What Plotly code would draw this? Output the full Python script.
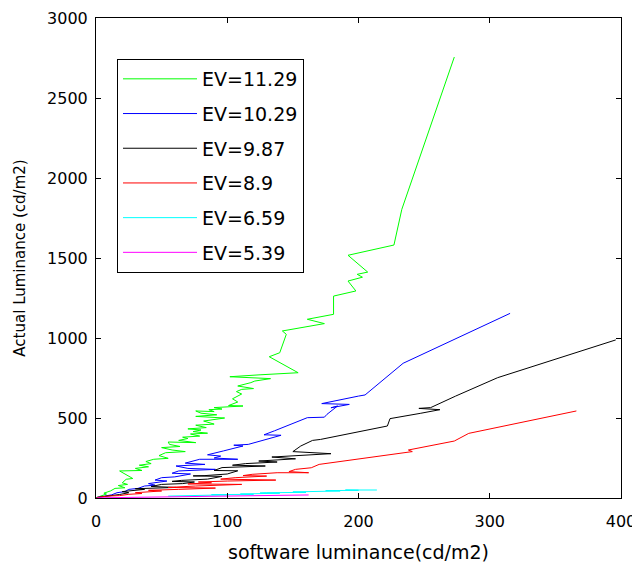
import plotly.graph_objects as go

# ---- data ----
series_names = ["EV=11.29", "EV=10.29", "EV=9.87", "EV=8.9", "EV=6.59", "EV=5.39"]
series_colors = ["#00FF00", "#0000FF", "#000000", "#FF0000", "#00FFFF", "#FF00FF"]

ev1129_x = [0.5, 4, 8, 6, 11, 14.5, 22, 17, 24, 20, 23, 28, 18, 35, 30, 40, 33, 42, 38, 44,
            55, 48, 53, 68, 58, 50, 64, 56, 55, 76, 63, 70, 66, 79, 72, 85, 74, 80, 70, 84,
            76, 90, 82, 98, 76, 92, 80, 76, 90, 86, 96, 90, 112, 101, 108, 104, 111, 107, 111, 120,
            108, 118, 121, 133, 102, 125, 154, 132, 140, 145, 142, 174, 161, 181, 181, 198, 192,
            203, 199, 207, 192, 227, 233, 273]
ev1129_y = [3, 12, 25, 30, 44, 60, 64, 78, 85, 95, 117, 122, 169, 172, 185, 195, 205, 215, 228, 242,
            248, 265, 283, 290, 300, 315, 322, 335, 350, 346, 360, 372, 380, 387, 400, 405, 415, 425, 432, 440,
            455, 462, 481, 500, 510, 520, 530, 544, 540, 552, 556, 565, 575, 578, 600, 620, 650, 665, 679, 684,
            700, 721, 731, 746, 758, 770, 783, 883, 908, 1023, 1044, 1090, 1117, 1148, 1262, 1294, 1356,
            1380, 1398, 1412, 1517, 1581, 1804, 2756]

ev1029_x = [0.5, 7, 12, 16, 22, 25, 32, 37, 45, 40, 54, 45, 50, 60, 72, 58, 63, 91, 70, 61,
            83, 68, 79, 108, 90, 95, 85, 97, 112, 105, 116, 141, 128, 136, 149, 161, 174, 176, 184, 179,
            193, 172, 200, 205, 234, 315.5]
ev1029_y = [3, 12, 20, 33, 40, 54, 60, 75, 80, 90, 106, 112, 127, 132, 150, 155, 169, 179, 185, 200,
            210, 218, 242, 242, 250, 262, 270, 294, 325, 330, 335, 392, 395, 420, 465, 502, 505, 523, 575, 564,
            585, 590, 637, 644, 842, 1154]

ev987_x = [0.5, 6, 12, 18, 25, 20, 37, 30, 61, 42, 50, 66, 75, 58, 65, 85, 96, 74, 83, 100,
           108, 90, 96, 129, 104, 114, 138, 124, 152, 134, 179, 150, 156, 165, 171, 222, 224, 247, 262, 246,
           255, 274, 306, 396]
ev987_y = [3, 8, 12, 22, 33, 40, 54, 58, 66, 72, 85, 90, 100, 104, 110, 118, 135, 138, 140, 150,
           170, 172, 190, 200, 205, 215, 225, 231, 245, 256, 277, 290, 325, 360, 366, 450, 496, 529, 552, 560,
           565, 637, 752, 988]

ev89_x = [0.5, 9, 18, 25, 35, 30, 50, 40, 63, 91, 55, 76, 111, 70, 88, 78, 100, 137, 95, 106,
          130, 112, 119, 138, 162, 147, 152, 164, 170, 241, 238, 273, 284, 366]
ev89_y = [3, 12, 15, 23, 28, 33, 44, 48, 54, 62, 66, 75, 85, 88, 95, 100, 106, 112, 118, 127,
          137, 140, 148, 158, 158, 165, 179, 189, 210, 290, 300, 356, 404, 544]

ev659_x = [55, 70, 62, 90, 80, 100, 88, 120, 110, 140, 125, 130, 160, 150, 186, 175, 200, 190, 214]
ev659_y = [12, 14, 16, 16, 18, 20, 21, 23, 25, 30, 31, 33, 35, 38, 44, 46, 48, 50, 50]

ev539_x = [1, 20, 40, 60, 50, 80, 100, 90, 120, 140, 130, 162]
ev539_y = [1, 3, 5, 6, 8, 9, 11, 13, 13, 15, 17, 19]

x_ticks = [0, 100, 200, 300, 400]
y_ticks = [0, 500, 1000, 1500, 2000, 2500, 3000]
x_title = "software luminance(cd/m2)"
y_title = "Actual Luminance (cd/m2)"

xs = [ev1129_x, ev1029_x, ev987_x, ev89_x, ev659_x, ev539_x]
ys = [ev1129_y, ev1029_y, ev987_y, ev89_y, ev659_y, ev539_y]

fig = go.Figure()
for name, color, x, y in zip(series_names, series_colors, xs, ys):
    fig.add_trace(go.Scatter(x=x, y=y, mode="lines", name=name, legendgroup=name,
                             line=dict(color=color, width=1)))

FONT = "DejaVu Sans"
axis_common = dict(showline=True, linecolor="black", linewidth=1, mirror="ticks",
                   ticks="inside", ticklen=5, tickcolor="black", showgrid=False,
                   zeroline=False, automargin=False,
                   tickfont=dict(family=FONT, size=16, color="black"))

# the page body has an 8px default margin, so the figure is 8px smaller
fig.update_layout(
    width=632, height=555,
    margin=dict(l=88, r=19, t=10, b=65),
    paper_bgcolor="white", plot_bgcolor="white",
    font=dict(family=FONT, color="black"),
    xaxis=dict(range=[0, 400], tickvals=x_ticks, ticklabelstandoff=9,
               title=dict(text=x_title, font=dict(family=FONT, size=19), standoff=25),
               **axis_common),
    yaxis=dict(range=[0, 3000], tickvals=y_ticks, ticklabelstandoff=4,
               title=dict(text=y_title, font=dict(family=FONT, size=15), standoff=17),
               **axis_common),
    legend=dict(x=0.04, y=0.9146, xanchor="left", yanchor="top",
                bordercolor="black", borderwidth=1, bgcolor="white",
                font=dict(family=FONT, size=19), itemwidth=74, tracegroupgap=7),
    showlegend=True,
)

fig.write_html("out.html")
